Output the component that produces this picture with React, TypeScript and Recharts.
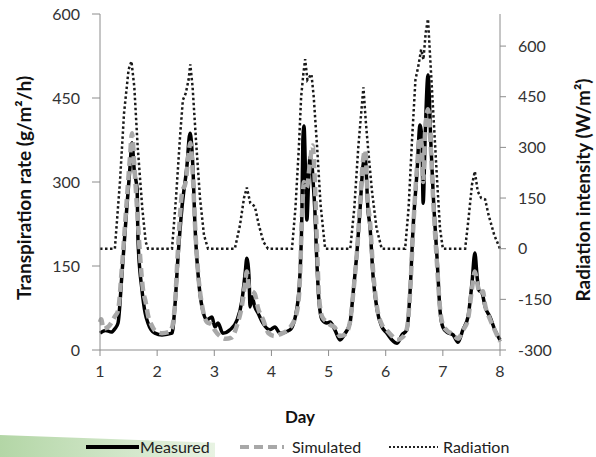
import React from "react";
import { LineChart, Line, XAxis, YAxis, Label } from "recharts";

const dayTicks = [1, 2, 3, 4, 5, 6, 7, 8];
const transTicks = [0, 150, 300, 450, 600];
const radTicks = [-300, -150, 0, 150, 300, 450, 600];

// [day, g/m2/h]
const measured: [number, number][] = [
  [1.0, 30], [1.1, 35], [1.2, 32], [1.26, 38], [1.315, 48], [1.385, 137], [1.47, 255], [1.525, 327], [1.56, 370],
  [1.6, 320], [1.65, 286], [1.665, 196], [1.735, 107], [1.79, 66], [1.84, 48], [1.96, 30], [2.085, 27], [2.26, 30],
  [2.31, 77], [2.365, 166], [2.435, 255], [2.52, 327], [2.575, 387], [2.63, 316], [2.66, 227], [2.715, 137],
  [2.785, 77], [2.87, 54], [2.96, 59], [3.01, 41], [3.065, 48], [3.15, 30], [3.275, 36], [3.4, 54], [3.485, 89],
  [3.54, 137], [3.57, 164], [3.61, 125], [3.625, 77], [3.66, 95], [3.71, 77], [3.765, 66], [3.85, 48], [3.975, 36],
  [4.06, 41], [4.15, 30], [4.325, 36], [4.45, 77], [4.5, 137], [4.535, 255], [4.55, 375], [4.57, 400], [4.6, 300],
  [4.62, 232], [4.65, 300], [4.675, 345], [4.71, 330], [4.73, 300], [4.76, 250], [4.79, 170], [4.83, 90],
  [4.885, 54], [4.97, 48], [5.025, 50], [5.11, 36], [5.2, 18], [5.29, 30], [5.375, 48], [5.43, 102], [5.5, 179],
  [5.55, 250], [5.6, 327], [5.64, 345], [5.69, 250], [5.725, 220], [5.78, 130], [5.85, 71], [5.935, 41], [6.02, 30],
  [6.11, 18], [6.2, 12], [6.285, 27], [6.37, 36], [6.425, 102], [6.48, 220], [6.55, 321], [6.6, 402], [6.635, 370],
  [6.655, 262], [6.69, 380], [6.74, 491], [6.79, 370], [6.83, 280], [6.9, 161], [6.95, 71], [7.0, 41], [7.07, 32],
  [7.18, 27], [7.265, 14], [7.35, 36], [7.44, 59], [7.51, 120], [7.56, 173], [7.6, 130], [7.63, 107], [7.685, 102],
  [7.74, 77], [7.825, 59], [7.91, 36], [8.0, 18],
];

const simulated: [number, number][] = [
  [1.0, 50], [1.02, 55], [1.06, 38], [1.15, 42], [1.26, 60], [1.315, 70], [1.385, 150], [1.47, 270], [1.525, 345],
  [1.56, 387], [1.6, 330], [1.65, 250], [1.7, 170], [1.75, 110], [1.8, 85], [1.84, 62], [1.9, 45], [1.96, 35],
  [2.085, 30], [2.2, 32], [2.26, 40], [2.31, 80], [2.365, 180], [2.435, 280], [2.5, 300], [2.55, 350], [2.58, 370],
  [2.63, 300], [2.66, 230], [2.715, 140], [2.785, 80], [2.87, 50], [2.96, 45], [3.01, 35], [3.1, 25], [3.2, 20],
  [3.3, 22], [3.4, 45], [3.485, 80], [3.54, 120], [3.57, 140], [3.61, 110], [3.66, 105], [3.71, 100], [3.765, 75],
  [3.85, 55], [3.95, 30], [4.06, 25], [4.15, 28], [4.325, 40], [4.45, 70], [4.5, 130], [4.535, 240], [4.57, 300],
  [4.62, 290], [4.67, 330], [4.72, 365], [4.76, 300], [4.8, 180], [4.83, 100], [4.885, 60], [4.97, 50], [5.025, 45],
  [5.11, 40], [5.2, 25], [5.29, 28], [5.375, 50], [5.43, 100], [5.5, 180], [5.55, 260], [5.6, 335], [5.64, 357],
  [5.69, 260], [5.725, 230], [5.78, 140], [5.85, 75], [5.935, 45], [6.02, 35], [6.11, 25], [6.2, 18], [6.285, 22],
  [6.37, 38], [6.425, 100], [6.48, 215], [6.55, 330], [6.6, 380], [6.635, 360], [6.655, 300], [6.69, 390],
  [6.74, 430], [6.79, 360], [6.83, 270], [6.9, 150], [6.95, 75], [7.0, 45], [7.07, 35], [7.18, 28], [7.265, 20],
  [7.35, 35], [7.44, 55], [7.51, 110], [7.56, 140], [7.6, 120], [7.65, 100], [7.7, 105], [7.74, 80], [7.825, 55],
  [7.91, 35], [8.0, 15],
];

// [day, W/m2]
const radiation: [number, number][] = [
  [1.0, 0], [1.26, 0], [1.35, 200], [1.42, 400], [1.5, 530], [1.55, 555], [1.6, 480], [1.66, 300], [1.74, 120],
  [1.8, 20], [1.84, 0], [2.26, 0], [2.33, 150], [2.4, 330], [2.45, 440], [2.5, 460], [2.55, 500], [2.58, 546],
  [2.62, 480], [2.68, 320], [2.75, 150], [2.82, 40], [2.89, 0], [3.36, 0], [3.45, 70], [3.52, 150], [3.57, 181],
  [3.63, 135], [3.71, 125], [3.78, 70], [3.86, 20], [3.94, 0], [4.36, 0], [4.42, 120], [4.48, 300], [4.52, 450],
  [4.56, 520], [4.59, 561], [4.63, 500], [4.7, 517], [4.74, 450], [4.8, 300], [4.86, 130], [4.94, 0], [5.38, 0],
  [5.45, 120], [5.52, 300], [5.58, 420], [5.61, 478], [5.65, 380], [5.7, 280], [5.76, 170], [5.84, 60], [5.93, 0],
  [6.34, 0], [6.4, 120], [6.46, 320], [6.52, 500], [6.57, 540], [6.62, 590], [6.66, 560], [6.7, 640], [6.74, 680],
  [6.78, 560], [6.84, 380], [6.9, 200], [6.95, 60], [7.0, 0], [7.39, 0], [7.45, 90], [7.51, 190], [7.56, 229],
  [7.61, 170], [7.67, 150], [7.74, 146], [7.8, 100], [7.9, 40], [8.0, 0],
];

const measuredData = measured.map(([d, v]) => ({ d, v }));
const simulatedData = simulated.map(([d, v]) => ({ d, v }));
const radiationData = radiation.map(([d, v]) => ({ d, v }));

const FONT = "Lato, 'Open Sans', sans-serif";
const tickStyle = { fontSize: 16, fill: "#333", fontFamily: FONT };
const axisColor = "#8c8c8c";

export default function App() {
  return (
    <div style={{ position: "absolute", left: 0, top: 0, width: 596, height: 457, background: "#fff", fontFamily: FONT }}>
      <div
        style={{
          position: "absolute",
          left: 0,
          top: 435,
          width: 215,
          height: 22,
          background: "linear-gradient(to right, #b3d6a6, #e8f3e3)",
          clipPath: "polygon(0 0, 100% 35%, 100% 100%, 0 100%)",
        }}
      />
      <div style={{ position: "absolute", left: 0, top: 0 }}>
        <LineChart width={596} height={457} margin={{ top: 14, right: 0, bottom: 77, left: 0 }}>
          <XAxis
            dataKey="d"
            type="number"
            domain={[1, 8]}
            ticks={dayTicks}
            allowDuplicatedCategory={false}
            stroke={axisColor}
            tickSize={6}
            tickMargin={10}
            tick={tickStyle}
            height={30}
          >
            <Label value="Day" position="bottom" offset={31} style={{ fontSize: 17, fontWeight: 700, fill: "#111", fontFamily: FONT }} />
          </XAxis>
          <YAxis
            yAxisId="left"
            domain={[0, 600]}
            ticks={transTicks}
            stroke={axisColor}
            tickSize={8}
            tickMargin={12}
            tick={tickStyle}
            width={100}
          />
          <YAxis
            yAxisId="right"
            orientation="right"
            domain={[-300, 695]}
            ticks={radTicks}
            stroke={axisColor}
            tickSize={6}
            tickMargin={12}
            tick={tickStyle}
            width={96}
          />
          <Line
            yAxisId="right"
            data={radiationData}
            dataKey="v"
            type="linear"
            stroke="#1a1a1a"
            strokeWidth={2.5}
            strokeDasharray="2.5 2.5"
            dot={false}
            isAnimationActive={false}
          />
          <Line
            yAxisId="left"
            data={measuredData}
            dataKey="v"
            type="monotone"
            stroke="#000"
            strokeWidth={3.5}
            dot={false}
            isAnimationActive={false}
          />
          <Line
            yAxisId="left"
            data={simulatedData}
            dataKey="v"
            type="monotone"
            stroke="#a8a8a8"
            strokeWidth={4.5}
            strokeDasharray="9 5"
            dot={false}
            isAnimationActive={false}
          />
        </LineChart>
      </div>
      <svg style={{ position: "absolute", left: 0, top: 0 }} width={596} height={457}>
        <text
          x={23}
          y={188}
          transform="rotate(-90, 23, 188)"
          textAnchor="middle"
          dominantBaseline="central"
          fontSize={19}
          fontWeight={700}
          fill="#111"
          fontFamily={FONT}
        >
          Transpiration rate (g/m²/h)
        </text>
        <text
          x={582}
          y={190}
          transform="rotate(-90, 582, 190)"
          textAnchor="middle"
          dominantBaseline="central"
          fontSize={19}
          fontWeight={700}
          fill="#111"
          fontFamily={FONT}
        >
          Radiation intensity (W/m²)
        </text>
      </svg>
      <svg style={{ position: "absolute", left: 0, top: 435 }} width={596} height={22}>
        <line x1={86} y1={12} x2={139} y2={12} stroke="#000" strokeWidth={4} />
        <line x1={240} y1={12} x2={284} y2={12} stroke="#a8a8a8" strokeWidth={4} strokeDasharray="9 5" />
        <line x1={389} y1={12} x2={438} y2={12} stroke="#222" strokeWidth={2} strokeDasharray="2 2" />
        <text x={140} y={18} fontSize={16} fill="#222" fontFamily={FONT}>Measured</text>
        <text x={292} y={18} fontSize={16} fill="#222" fontFamily={FONT}>Simulated</text>
        <text x={443} y={18} fontSize={16} fill="#222" fontFamily={FONT}>Radiation</text>
      </svg>
    </div>
  );
}
